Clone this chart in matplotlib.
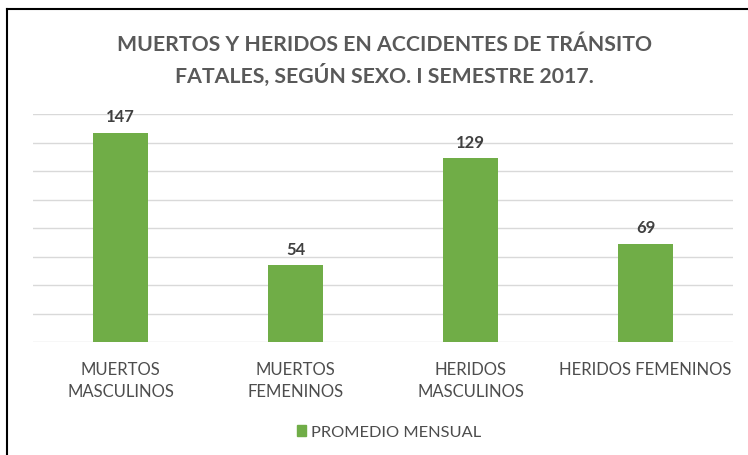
import matplotlib
matplotlib.use("Agg")
import matplotlib.pyplot as plt
from matplotlib.patches import Rectangle
from matplotlib.lines import Line2D

plt.rcParams['font.family'] = ['Lato', 'DejaVu Sans']

categories = ["MUERTOS\nMASCULINOS", "MUERTOS\nFEMENINOS", "HERIDOS\nMASCULINOS", "HERIDOS FEMENINOS"]
values = [147, 54, 129, 69]
series_name = "PROMEDIO MENSUAL"
title = "MUERTOS Y HERIDOS EN ACCIDENTES DE TRÁNSITO\nFATALES, SEGÚN SEXO. I SEMESTRE 2017."

W, H = 748, 456
fig = plt.figure(figsize=(W/100, H/100), dpi=100)
ax = fig.add_axes([33/W, 1-343/H, 700/W, (343-115)/H])
green = "#70AD47"
x = range(len(categories))
bars = ax.bar(x, values, width=0.315, color=green, label=series_name, zorder=3)
ax.set_xlim(-0.5, 3.5)
ax.set_ylim(0, 160)
ax.set_yticks(range(0, 161, 20))
ax.yaxis.grid(True, color="#D9D9D9", linewidth=1)
ax.tick_params(axis='y', left=False, labelleft=False)
ax.tick_params(axis='x', length=0, pad=14, labelsize=12, labelcolor="#4D4D4D")
ax.set_xticks(list(x))
ax.set_xticklabels(categories, linespacing=1.45)
for s in ax.spines.values():
    s.set_visible(False)
for b, v in zip(bars, values):
    ax.annotate(str(v), (b.get_x()+b.get_width()/2, v), xytext=(0, 6), textcoords="offset points",
                ha="center", va="bottom", fontsize=12, fontweight="bold", color="#404040")

fig.text(384/W, 1-61/H, title, ha="center", va="center", fontsize=15.3, fontweight="bold",
         color="#595959", linespacing=1.5)

leg = fig.legend(handles=[Rectangle((0,0),1,1,color=green)], labels=[series_name],
                 loc="center", bbox_to_anchor=(389/W, 1-433/H), frameon=False,
                 fontsize=11.8, labelcolor="#4D4D4D", handlelength=0.55, handleheight=0.7, handletextpad=0.3)

fig.add_artist(Line2D([6.5/W, 6.5/W], [0, 1-10/H], color="black", linewidth=1.5, transform=fig.transFigure))
fig.add_artist(Line2D([6.5/W, 1], [1-10/H, 1-10/H], color="black", linewidth=1.5, transform=fig.transFigure))

fig.savefig("out.png", dpi=100)
